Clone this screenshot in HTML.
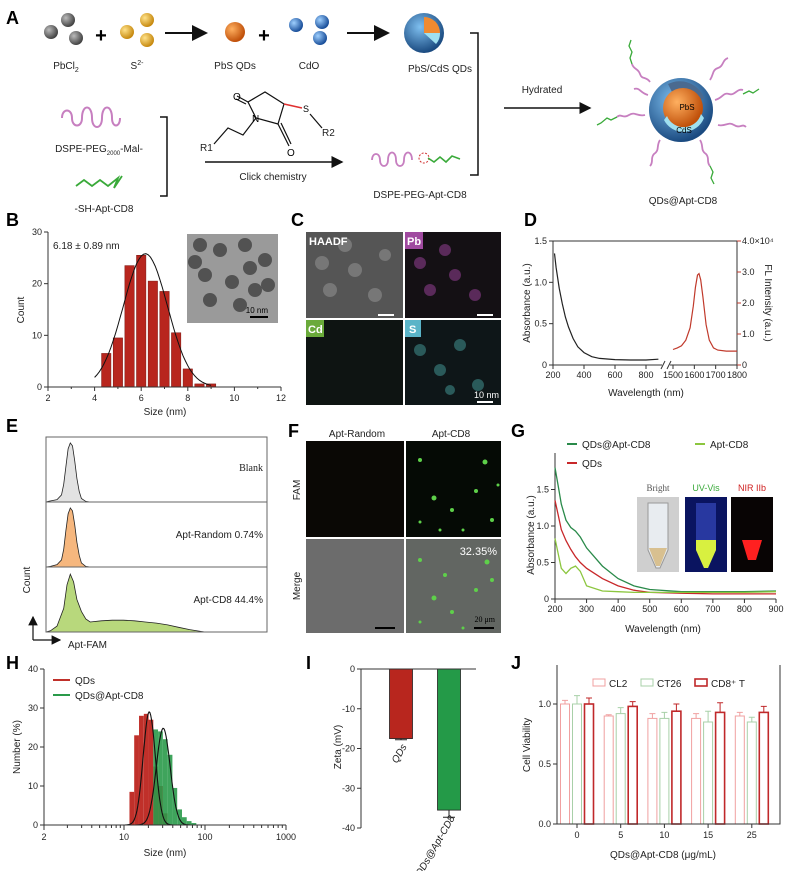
<!DOCTYPE html>
<html><head><meta charset="utf-8"><style>
html,body{margin:0;padding:0;background:#fff;}
svg{display:block;font-family:"Liberation Sans",Arial,sans-serif;}
.pl{font-weight:bold;font-size:18px;}
.t{font-size:10px;fill:#222;}
.tk{font-size:9px;fill:#222;}
</style></head><body>
<svg id="fig" width="790" height="871" viewBox="0 0 790 871" xmlns="http://www.w3.org/2000/svg">
<defs>
<radialGradient id="gGray" cx="35%" cy="35%" r="65%"><stop offset="0" stop-color="#bbb"/><stop offset="1" stop-color="#444"/></radialGradient>
<radialGradient id="gYel" cx="35%" cy="35%" r="65%"><stop offset="0" stop-color="#ffe28a"/><stop offset="1" stop-color="#c78a10"/></radialGradient>
<radialGradient id="gOr" cx="35%" cy="35%" r="65%"><stop offset="0" stop-color="#ffb060"/><stop offset="1" stop-color="#c0500a"/></radialGradient>
<radialGradient id="gBlue" cx="35%" cy="35%" r="65%"><stop offset="0" stop-color="#9fd0ff"/><stop offset="1" stop-color="#1a4f9a"/></radialGradient>
<radialGradient id="gShell" cx="40%" cy="35%" r="65%"><stop offset="0" stop-color="#7fc0f0"/><stop offset="1" stop-color="#1a4a80"/></radialGradient>
<marker id="ah" markerWidth="8" markerHeight="8" refX="7" refY="4" orient="auto"><path d="M0,0 L8,4 L0,8 z" fill="#111"/></marker>
</defs>

<!-- ===== Panel A ===== -->
<g>
<text x="6" y="24" class="pl">A</text>
<g><circle cx="51" cy="32" r="7" fill="url(#gGray)"/><circle cx="68" cy="20" r="7" fill="url(#gGray)"/><circle cx="76" cy="38" r="7" fill="url(#gGray)"/></g>
<text x="101" y="42" font-size="20" font-weight="bold" text-anchor="middle">+</text>
<g><circle cx="127" cy="32" r="7" fill="url(#gYel)"/><circle cx="147" cy="20" r="7" fill="url(#gYel)"/><circle cx="147" cy="40" r="7" fill="url(#gYel)"/></g>
<line x1="165" y1="33" x2="206" y2="33" stroke="#111" stroke-width="2" marker-end="url(#ah)"/>
<circle cx="235" cy="32" r="10" fill="url(#gOr)"/>
<text x="264" y="42" font-size="20" font-weight="bold" text-anchor="middle">+</text>
<g><circle cx="296" cy="25" r="7" fill="url(#gBlue)"/><circle cx="322" cy="22" r="7" fill="url(#gBlue)"/><circle cx="320" cy="38" r="7" fill="url(#gBlue)"/></g>
<line x1="347" y1="33" x2="388" y2="33" stroke="#111" stroke-width="2" marker-end="url(#ah)"/>
<g><circle cx="424" cy="33" r="20" fill="url(#gShell)"/><path d="M424,33 L424,17 A16,16 0 0 1 440,33 z" fill="#f08a30"/><path d="M424,33 L440,33 A16,16 0 0 1 436,44 z" fill="#9fe0f0"/></g>
<text x="66" y="69" class="t" text-anchor="middle">PbCl<tspan font-size="7" dy="3">2</tspan></text>
<text x="137" y="69" class="t" text-anchor="middle">S<tspan font-size="7" dy="-4">2-</tspan></text>
<text x="235" y="69" class="t" text-anchor="middle">PbS QDs</text>
<text x="309" y="69" class="t" text-anchor="middle">CdO</text>
<text x="440" y="72" class="t" text-anchor="middle">PbS/CdS QDs</text>
<path d="M470,33 H478 V175 H470" fill="none" stroke="#111" stroke-width="1.5"/>
<text x="542" y="93" class="t" text-anchor="middle">Hydrated</text>
<line x1="504" y1="108" x2="590" y2="108" stroke="#111" stroke-width="1.5" marker-end="url(#ah)"/>
<path d="M62,118 c0,-10 10,-10 10,0 c0,10 10,10 10,0 c0,-14 10,-14 10,0 c0,12 10,12 10,0 c0,-14 10,-14 10,0 c0,10 8,10 8,0" fill="none" stroke="#c77fc0" stroke-width="2"/>
<text x="99" y="152" class="t" text-anchor="middle">DSPE-PEG<tspan font-size="6" dy="3">2000</tspan><tspan dy="-3">-Mal-</tspan></text>
<path d="M76,186 l8,-6 l8,6 l8,-6 l8,6 l10,-8 l-4,10 l8,-12" fill="none" stroke="#3aaa3a" stroke-width="1.8"/>
<text x="104" y="212" class="t" text-anchor="middle">-SH-Apt-CD8</text>
<path d="M160,117 H167 V196 H160" fill="none" stroke="#111" stroke-width="1.5"/>
<g stroke="#111" stroke-width="1.2" fill="none">
<path d="M256,118 L248,102 L265,92 L284,104 L278,124 Z"/><path d="M248,102 L237,96 M246,104 L236,99"/><path d="M278,124 L289,146 M281,123 L291,144"/>
<path d="M256,118 L243,135 L228,128 L214,144"/><path d="M284,104 L302,108" stroke="#e03030" stroke-width="1.6"/><path d="M310,114 L322,128"/>
</g>
<text x="233" y="100" font-size="10">O</text>
<text x="287" y="156" font-size="10">O</text>
<text x="252" y="122" font-size="10">N</text>
<text x="303" y="112" font-size="9">S</text>
<text x="322" y="136" class="t">R2</text>
<text x="200" y="151" class="t">R1</text>
<line x1="205" y1="162" x2="342" y2="162" stroke="#111" stroke-width="1.5" marker-end="url(#ah)"/>
<text x="273" y="180" class="t" text-anchor="middle">Click chemistry</text>
<path d="M372,160 c0,-8 8,-8 8,0 c0,8 8,8 8,0 c0,-10 8,-10 8,0 c0,8 8,8 8,0 c0,-10 8,-10 8,0" fill="none" stroke="#c77fc0" stroke-width="1.8"/>
<circle cx="424" cy="158" r="5" fill="none" stroke="#d03030" stroke-dasharray="2,1.5"/>
<path d="M428,158 l6,4 l6,-5 l6,5 l6,-6 l8,3" fill="none" stroke="#3aaa3a" stroke-width="1.6"/>
<text x="420" y="198" class="t" text-anchor="middle">DSPE-PEG-Apt-CD8</text>
<g>
<g fill="none" stroke="#c77fc0" stroke-width="1.8">
<path d="M650,82 c-4,-6 -8,-2 -10,-8 c-2,-6 -6,-4 -8,-10"/><path d="M710,80 c4,-6 2,-10 8,-12 c6,-2 4,-8 10,-10"/><path d="M715,100 c8,-2 8,-8 14,-6 c6,2 8,-6 14,-4"/>
<path d="M718,125 c8,2 10,-4 16,0 c6,4 8,-2 12,2"/><path d="M700,140 c4,6 0,10 6,14 c4,4 0,8 4,12"/><path d="M660,140 c-4,6 0,10 -6,14 c-4,4 0,8 -4,12"/><path d="M645,115 c-8,2 -10,-4 -16,0 c-6,4 -8,-2 -12,2"/><path d="M648,95 c-8,-2 -8,-8 -14,-6"/>
</g>
<g fill="none" stroke="#3aaa3a" stroke-width="1.3"><path d="M632,64 l-2,-6 l2,-6 l-3,-6 l2,-6"/><path d="M743,94 l6,-3 l4,2 l6,-4"/><path d="M710,166 l3,6 l-2,6 l3,6"/><path d="M617,117 l-6,3 l-4,-2 l-6,5 l-4,2"/></g>
<circle cx="681" cy="110" r="32" fill="url(#gShell)"/>
<path d="M681,110 L668,84 A26,26 0 0 1 704,98 z" fill="#4a6a90"/>
<circle cx="683" cy="108" r="20" fill="url(#gOr)"/>
<path d="M664,120 A22,22 0 0 0 704,118 L701,114 A18,18 0 0 1 667,116 z" fill="#9fe0f0"/>
<text x="687" y="110" font-size="8" text-anchor="middle">PbS</text>
<text x="684" y="133" font-size="8" text-anchor="middle">CdS</text>
</g>
<text x="683" y="204" class="t" text-anchor="middle">QDs@Apt-CD8</text>
</g>

<!-- ===== Panel C ===== -->
<g>
<text x="291" y="226" class="pl">C</text>
<rect x="306" y="232" width="97" height="86" fill="#555"/>
<g fill="#777"><circle cx="322" cy="263" r="7"/><circle cx="345" cy="245" r="7"/><circle cx="330" cy="290" r="7"/><circle cx="355" cy="270" r="7"/><circle cx="375" cy="295" r="7"/><circle cx="385" cy="255" r="6"/></g>
<rect x="405" y="232" width="96" height="86" fill="#141014"/>
<g fill="#5a2a5a"><circle cx="420" cy="263" r="6"/><circle cx="445" cy="250" r="6"/><circle cx="455" cy="275" r="6"/><circle cx="475" cy="295" r="6"/><circle cx="430" cy="290" r="6"/></g>
<rect x="306" y="320" width="97" height="85" fill="#0e1412"/>
<rect x="405" y="320" width="96" height="85" fill="#0e1618"/>
<g fill="#2a5a5a"><circle cx="420" cy="350" r="6"/><circle cx="440" cy="370" r="6"/><circle cx="460" cy="345" r="6"/><circle cx="478" cy="385" r="6"/><circle cx="450" cy="390" r="5"/></g>
<text x="309" y="245" font-size="11" font-weight="bold" fill="#fff">HAADF</text>
<rect x="405" y="232" width="18" height="17" fill="#a04aa0"/><text x="407" y="245" font-size="11" font-weight="bold" fill="#fff">Pb</text>
<rect x="306" y="320" width="18" height="17" fill="#6aaa3a"/><text x="308" y="333" font-size="11" font-weight="bold" fill="#fff">Cd</text>
<rect x="405" y="320" width="16" height="17" fill="#5ab4c8"/><text x="409" y="333" font-size="11" font-weight="bold" fill="#fff">S</text>
<g stroke="#fff" stroke-width="2"><line x1="378" y1="315" x2="394" y2="315"/><line x1="477" y1="315" x2="493" y2="315"/><line x1="477" y1="402" x2="493" y2="402"/></g>
<text x="499" y="398" font-size="9" fill="#fff" text-anchor="end">10 nm</text>
</g>

<!-- ===== Panel F ===== -->
<g>
<text x="288" y="437" class="pl">F</text>
<text x="357" y="437" class="t" text-anchor="middle">Apt-Random</text>
<text x="451" y="437" class="t" text-anchor="middle">Apt-CD8</text>
<text transform="translate(300,490) rotate(-90)" class="t" text-anchor="middle">FAM</text>
<text transform="translate(300,586) rotate(-90)" class="t" text-anchor="middle">Merge</text>
<rect x="306" y="441" width="98" height="96" fill="#0a0805"/>
<rect x="406" y="441" width="95" height="96" fill="#050a05"/>
<rect x="306" y="539" width="98" height="94" fill="#6c6c6c"/>
<rect x="406" y="539" width="95" height="94" fill="#626662"/>
<g fill="#5ed04a"><circle cx="420" cy="460" r="2"/><circle cx="485" cy="462" r="2.5"/><circle cx="476" cy="491" r="2"/><circle cx="434" cy="498" r="2.5"/><circle cx="452" cy="510" r="2"/><circle cx="420" cy="522" r="1.5"/><circle cx="492" cy="520" r="2"/><circle cx="463" cy="530" r="1.5"/><circle cx="440" cy="530" r="1.5"/><circle cx="498" cy="485" r="1.5"/>
<circle cx="420" cy="560" r="2"/><circle cx="487" cy="562" r="2.5"/><circle cx="476" cy="590" r="2"/><circle cx="434" cy="598" r="2.5"/><circle cx="452" cy="612" r="2"/><circle cx="420" cy="622" r="1.5"/><circle cx="492" cy="580" r="2"/><circle cx="463" cy="628" r="1.5"/><circle cx="445" cy="575" r="2"/></g>
<text x="497" y="555" font-size="11" fill="#fff" text-anchor="end">32.35%</text>
<g stroke="#000" stroke-width="2"><line x1="375" y1="628" x2="395" y2="628"/><line x1="474" y1="628" x2="494" y2="628"/></g>
<text x="495" y="622" font-size="8" font-family="Liberation Serif" text-anchor="end">20 μm</text>
</g>

<g id="charts"></g>
</svg>

<script>
const svg = document.getElementById('charts');
const NS = 'http://www.w3.org/2000/svg';
function el(tag, attrs, parent) {
  const e = document.createElementNS(NS, tag);
  for (const k in attrs) e.setAttribute(k, attrs[k]);
  (parent || svg).appendChild(e);
  return e;
}
function txt(x, y, s, attrs, parent) {
  const e = el('text', Object.assign({x: x, y: y}, attrs || {}), parent);
  e.textContent = s;
  return e;
}
function pathFrom(xs, ys, fx, fy) {
  return xs.map((v, i) => (i ? 'L' : 'M') + fx(v).toFixed(1) + ',' + fy(ys[i]).toFixed(1)).join(' ');
}

/* ---------- Panel B data ---------- */
const bSizes = [4.5, 5, 5.5, 6, 6.5, 7, 7.5, 8, 8.5, 9];
const bCounts = [6.5, 9.5, 23.5, 25.5, 20.5, 18.5, 10.5, 3.5, 0.6, 0.6];
const bFitMean = 6.18, bFitSigma = 0.95, bFitPeak = 25.8;
const bXTicks = [2, 4, 6, 8, 10, 12];
const bYTicks = [0, 10, 20, 30];

/* ---------- Panel D data ---------- */
const dAbsWl = [210, 220, 240, 260, 280, 300, 330, 360, 400, 450, 500, 600, 700, 800, 880];
const dAbs = [1.35, 1.18, 0.93, 0.74, 0.58, 0.46, 0.32, 0.22, 0.15, 0.1, 0.08, 0.065, 0.06, 0.06, 0.07];
const dFlWl = [1500, 1520, 1540, 1560, 1580, 1595, 1605, 1615, 1622, 1630, 1640, 1655, 1670, 1690, 1710, 1750, 1800];
const dFl = [0.5, 0.55, 0.62, 0.8, 1.2, 1.9, 2.5, 2.9, 2.95, 2.75, 2.2, 1.3, 0.8, 0.55, 0.48, 0.45, 0.45];
const dLeftTicks = [0, 0.5, 1.0, 1.5];
const dLeftLabels = ['0', '0.5', '1.0', '1.5'];
const dRightTicks = [0, 1, 2, 3, 4];
const dRightLabels = ['0', '1.0', '2.0', '3.0', '4.0×10⁴'];
const dXTicksA = [200, 400, 600, 800];
const dXTicksB = [1500, 1600, 1700, 1800];

/* ---------- Panel E data ---------- */
const eBlankX = [0, 1, 5, 7, 8, 9, 10, 11, 12, 13, 14, 15, 16, 18, 20, 100];
const eBlankY = [0, 0.01, 0.04, 0.12, 0.3, 0.6, 0.9, 1.0, 0.95, 0.7, 0.4, 0.18, 0.06, 0.01, 0, 0];
const eRandX = [0, 2, 5, 7, 8, 9, 10, 11, 12, 13, 14, 15, 16, 18, 20, 100];
const eRandY = [0, 0.01, 0.04, 0.12, 0.3, 0.62, 0.9, 1.0, 0.95, 0.72, 0.42, 0.2, 0.07, 0.01, 0, 0];
const eCd8X = [0, 2, 5, 8, 9.5, 11, 12.5, 14, 16, 18, 20, 25, 30, 35, 40, 45, 50, 55, 60, 65, 70, 72, 100];
const eCd8Y = [0, 0.02, 0.1, 0.4, 0.8, 0.98, 0.85, 0.55, 0.35, 0.22, 0.17, 0.19, 0.2, 0.2, 0.19, 0.17, 0.15, 0.12, 0.08, 0.04, 0.01, 0, 0];
const eLabels = ['Blank', 'Apt-Random  0.74%', 'Apt-CD8  44.4%'];

/* ---------- Panel G data ---------- */
const gWl = [200, 210, 220, 235, 250, 265, 280, 300, 350, 400, 450, 500, 600, 700, 800, 900];
const gQdsApt = [1.8, 1.55, 1.3, 1.08, 0.98, 0.93, 0.85, 0.7, 0.45, 0.28, 0.18, 0.13, 0.1, 0.1, 0.1, 0.11];
const gQds = [1.35, 1.15, 0.95, 0.8, 0.68, 0.58, 0.5, 0.42, 0.28, 0.18, 0.12, 0.09, 0.08, 0.07, 0.07, 0.07];
const gApt = [0.83, 0.62, 0.42, 0.35, 0.42, 0.45, 0.38, 0.18, 0.11, 0.1, 0.09, 0.09, 0.09, 0.09, 0.09, 0.1];
const gXTicks = [200, 300, 400, 500, 600, 700, 800, 900];
const gYTicks = [0, 0.5, 1.0, 1.5];

/* ---------- Panel H data ---------- */
const hQdsSizes = [12.5, 14.3, 16.4, 18.8, 21.5, 24.6, 28.2, 32.3];
const hQdsVals = [8.5, 23, 28, 28.5, 27, 15, 10, 3];
const hAptSizes = [24.6, 28.2, 32.3, 37, 42.4, 48.6, 55.6, 63.7, 73];
const hAptVals = [24.5, 24, 22, 18, 9.5, 4, 2, 1, 0.5];
const hQdsFit = {mean: 20.5, sd: 0.075, peak: 29};
const hAptFit = {mean: 30.5, sd: 0.085, peak: 24.8};
const hYTicks = [0, 10, 20, 30, 40];
const hXTicks = [10, 100, 1000];

/* ---------- Panel I data ---------- */
const iCats = ['QDs', 'QDs@Apt-CD8'];
const iVals = [-17.5, -35.5];
const iErrs = [0.3, 1.8];
const iYTicks = [0, -10, -20, -30, -40];

/* ---------- Panel J data ---------- */
const jCats = ['0', '5', '10', '15', '25'];
const jCL2 = [1.0, 0.9, 0.88, 0.88, 0.9];
const jCT26 = [1.0, 0.92, 0.88, 0.85, 0.85];
const jCD8 = [1.0, 0.98, 0.94, 0.93, 0.93];
const jCL2Err = [0.03, 0.01, 0.04, 0.04, 0.03];
const jCT26Err = [0.07, 0.05, 0.05, 0.09, 0.04];
const jCD8Err = [0.05, 0.04, 0.06, 0.08, 0.05];
const jYTicks = [0, 0.5, 1.0];
const jYLabels = ['0.0', '0.5', '1.0'];

/* ===================== Panel B ===================== */
(function () {
  const g = el('g', {});
  
  
  const xB = v => 48 + (v - 2) * 23.3, yB = v => 387 - v * 155 / 30;
  const lb = txt(6, 226, 'B', {class: 'pl'}, g);
  
  
  bSizes.forEach((s, i) => {
    const r = el('rect', {x: xB(s) - 4.7, y: yB(bCounts[i]), width: 9.4, height: yB(0) - yB(bCounts[i]), fill: '#b8261e', stroke: '#7a1510', 'stroke-width': 0.5}, g);
    
    
  });
  const fx = [], fy = [];
  for (let s = 4; s <= 9.01; s += 0.1) { fx.push(s); fy.push(bFitPeak * Math.exp(-Math.pow(s - bFitMean, 2) / (2 * bFitSigma * bFitSigma))); }
  const fit = el('path', {d: pathFrom(fx, fy, xB, yB), fill: 'none', stroke: '#111', 'stroke-width': 1}, g);
  
  
  const ax = el('path', {d: `M${xB(2)},${yB(30)} V${yB(0)} H${xB(12)}`, fill: 'none', stroke: '#333', 'stroke-width': 1}, g);
  
  
  for (let v = 2; v <= 12; v++) el('line', {x1: xB(v), x2: xB(v), y1: yB(0), y2: yB(0) + (v % 2 ? 2 : 4), stroke: '#333'}, g);
  bXTicks.forEach(v => {
    const t = txt(xB(v), 401, String(v), {class: 'tk', 'text-anchor': 'middle'}, g);
    
    
  });
  bYTicks.forEach(v => {
    el('line', {x1: xB(2) - 4, x2: xB(2), y1: yB(v), y2: yB(v), stroke: '#333'}, g);
    const t = txt(xB(2) - 6, yB(v) + 3, String(v), {class: 'tk', 'text-anchor': 'end'}, g);
    
    
  });
  const xt = txt(165, 415, 'Size (nm)', {class: 't', 'text-anchor': 'middle'}, g);
  
  
  const yt = txt(0, 0, 'Count', {class: 't', 'text-anchor': 'middle', transform: 'translate(24,310) rotate(-90)'}, g);
  
  
  const st = txt(53, 249, '6.18 ± 0.89 nm', {class: 't'}, g);
  
  
  const tem = el('rect', {x: 187, y: 234, width: 91, height: 89, fill: '#9a9a9a'}, g);
  
  
  [[200, 245], [220, 250], [245, 245], [265, 260], [205, 275], [232, 282], [255, 290], [210, 300], [240, 305], [268, 285], [195, 262], [250, 268]].forEach(p => el('circle', {cx: p[0], cy: p[1], r: 7, fill: '#404040', opacity: 0.8}, g));
  el('line', {x1: 250, x2: 268, y1: 317, y2: 317, stroke: '#000', 'stroke-width': 2}, g);
  const sb = txt(268, 313, '10 nm', {'font-size': 8, 'text-anchor': 'end'}, g);
  
  
})();

/* ===================== Panel D ===================== */
(function () {
  const g = el('g', {});
  
  
  const xD = w => w <= 900 ? 553 + (w - 200) * 0.155 : 673 + (w - 1500) * 64 / 300;
  const yL = a => 365 - a * 124 / 1.5, yR = f => 365 - f * 31;
  const lb = txt(524, 226, 'D', {class: 'pl'}, g);
  
  
  const fr = el('path', {d: 'M553,241 H737 V365 M553,241 V365 H662 M670,365 H737', fill: 'none', stroke: '#333'}, g);
  
  
  el('path', {d: 'M661,369 L665,361 M667,369 L671,361', stroke: '#333', fill: 'none'}, g);
  const ab = el('path', {d: pathFrom(dAbsWl, dAbs, xD, yL), fill: 'none', stroke: '#222', 'stroke-width': 1.2}, g);
  
  
  const fl = el('path', {d: pathFrom(dFlWl, dFl, xD, yR), fill: 'none', stroke: '#c0392b', 'stroke-width': 1.2}, g);
  
  
  dLeftTicks.forEach((v, i) => {
    el('line', {x1: 549, x2: 553, y1: yL(v), y2: yL(v), stroke: '#333'}, g);
    const t = txt(547, yL(v) + 3, dLeftLabels[i], {class: 'tk', 'text-anchor': 'end'}, g);
    
    
  });
  dRightTicks.forEach((v, i) => {
    el('line', {x1: 737, x2: 741, y1: yR(v), y2: yR(v), stroke: '#c0392b'}, g);
    const t = txt(742, yR(v) + 3, dRightLabels[i], {class: 'tk', fill: '#c0392b', 'font-size': 8}, g);
    
    
  });
  dXTicksA.concat(dXTicksB).forEach(v => {
    el('line', {x1: xD(v), x2: xD(v), y1: 365, y2: 369, stroke: '#333'}, g);
    const t = txt(xD(v), 378, String(v), {class: 'tk', 'text-anchor': 'middle', 'font-size': 8}, g);
    
    
  });
  const xt = txt(646, 396, 'Wavelength (nm)', {class: 't', 'text-anchor': 'middle', 'font-size': 11}, g);
  
  
  const yt = txt(0, 0, 'Absorbance (a.u.)', {class: 't', 'text-anchor': 'middle', transform: 'translate(530,303) rotate(-90)'}, g);
  
  
  const yr = txt(0, 0, 'FL Intensity (a.u.)', {class: 't', 'text-anchor': 'middle', fill: '#c0392b', transform: 'translate(765,303) rotate(90)'}, g);
  
  
})();

/* ===================== Panel E ===================== */
(function () {
  const g = el('g', {});
  
  
  const lb = txt(6, 432, 'E', {class: 'pl'}, g);
  
  
  const xE = p => 46 + p * 2.21;
  const rows = [[eBlankX, eBlankY, '#e2e2e2'], [eRandX, eRandY, '#f6b77e'], [eCd8X, eCd8Y, '#b8d87c']];
  rows.forEach((r, i) => {
    const top = 437 + i * 65, base = top + 65;
    const yE = v => base - v * 59;
    const d = pathFrom(r[0], r[1], xE, yE);
    const a = el('path', {d: d + ` L${xE(100)},${base} L${xE(0)},${base} Z`, fill: r[2], stroke: '#222', 'stroke-width': 0.8}, g);
    
    
    el('rect', {x: 46, y: top, width: 221, height: 65, fill: 'none', stroke: '#666'}, g);
    const t = txt(263, top + (i ? 36 : 34), eLabels[i], {class: 't', 'text-anchor': 'end', 'font-size': i ? 11 : 12, 'font-family': i ? 'Liberation Sans' : 'Liberation Serif'}, g);
    
    
  });
  el('path', {d: 'M33,640 V617', stroke: '#111', 'stroke-width': 1.2, 'marker-end': 'url(#ah)'}, g);
  el('path', {d: 'M33,640 H60', stroke: '#111', 'stroke-width': 1.2, 'marker-end': 'url(#ah)'}, g);
  const yt = txt(0, 0, 'Count', {class: 't', 'text-anchor': 'middle', transform: 'translate(30,580) rotate(-90)'}, g);
  
  
  const xt = txt(68, 648, 'Apt-FAM', {class: 't'}, g);
  
  
})();

/* ===================== Panel G ===================== */
(function () {
  const g = el('g', {});
  
  
  const xG = w => 555 + (w - 200) * 221 / 700, yG = a => 599 - a * 73;
  const lb = txt(511, 437, 'G', {class: 'pl'}, g);
  
  
  const ax = el('path', {d: `M555,453 V599 H776`, fill: 'none', stroke: '#333'}, g);
  
  
  [[gQdsApt, '#2a8a4a', 'qds-apt-cd8'], [gQds, '#c8282a', 'qds'], [gApt, '#8cc63f', 'apt-cd8']].forEach(s => {
    const p = el('path', {d: pathFrom(gWl, s[0], xG, yG), fill: 'none', stroke: s[1], 'stroke-width': 1.3}, g);
    
    
  });
  gXTicks.forEach(v => {
    el('line', {x1: xG(v), x2: xG(v), y1: 599, y2: 603, stroke: '#333'}, g);
    const t = txt(xG(v), 612, String(v), {class: 'tk', 'text-anchor': 'middle', 'font-size': 8}, g);
    
    
  });
  gYTicks.forEach(v => {
    el('line', {x1: 551, x2: 555, y1: yG(v), y2: yG(v), stroke: '#333'}, g);
    const t = txt(549, yG(v) + 3, v === 0 ? '0' : v.toFixed(1), {class: 'tk', 'text-anchor': 'end', 'font-size': 8}, g);
    
    
  });
  const xt = txt(663, 632, 'Wavelength (nm)', {class: 't', 'text-anchor': 'middle', 'font-size': 11}, g);
  
  
  const yt = txt(0, 0, 'Absorbance (a.u.)', {class: 't', 'text-anchor': 'middle', transform: 'translate(534,535) rotate(-90)'}, g);
  
  
  [[567, 444, '#2a8a4a', 'QDs@Apt-CD8'], [695, 444, '#8cc63f', 'Apt-CD8'], [567, 463, '#c8282a', 'QDs']].forEach((L, i) => {
    el('line', {x1: L[0], x2: L[0] + 10, y1: L[1], y2: L[1], stroke: L[2], 'stroke-width': 2}, g);
    const t = txt(L[0] + 15, L[1] + 4, L[3], {class: 't', 'font-size': 11}, g);
    
    
  });
  const ins = [[637, '#cfcfcf', 'Bright', '#555'], [685, '#0a1460', 'UV-Vis', '#3aaa3a'], [731, '#080404', 'NIR IIb', '#d02020']];
  ins.forEach((I, i) => {
    const r = el('rect', {x: I[0], y: 497, width: 42, height: 75, fill: I[1]}, g);
    
    
    const t = txt(I[0] + 21, 491, I[2], {'font-size': 9, 'text-anchor': 'middle', fill: I[3], 'font-family': i ? 'Liberation Sans' : 'Liberation Serif'}, g);
    
    
  });
  el('path', {d: 'M648,503 H668 V550 L660,568 H656 L648,550 Z', fill: '#e8ecf0', stroke: '#999'}, g);
  el('path', {d: 'M649,548 H667 L660,566 H656 Z', fill: '#d8c090'}, g);
  el('path', {d: 'M696,503 H716 V550 L708,568 H704 L696,550 Z', fill: '#2838a0'}, g);
  el('path', {d: 'M696,540 H716 V550 L708,568 H704 L696,550 Z', fill: '#d8f040'}, g);
  el('path', {d: 'M742,540 H762 L756,560 H748 Z', fill: '#ff2020'}, g);
})();

/* ===================== Panel H ===================== */
(function () {
  const g = el('g', {});
  
  
  const xH = s => 124 + Math.log10(s / 10) * 81, yH = v => 825 - v * 156 / 40;
  const lb = txt(6, 669, 'H', {class: 'pl'}, g);
  
  
  const bw = s => (xH(s * 1.07) - xH(s / 1.07));
  hQdsSizes.forEach((s, i) => {
    const r = el('rect', {x: xH(s) - bw(s) / 2, y: yH(hQdsVals[i]), width: bw(s), height: yH(0) - yH(hQdsVals[i]), fill: '#c0302a'}, g);
    
    
  });
  hAptSizes.forEach((s, i) => {
    const r = el('rect', {x: xH(s) - bw(s) / 2, y: yH(hAptVals[i]), width: bw(s), height: yH(0) - yH(hAptVals[i]), fill: '#2a9a4a', opacity: 0.9}, g);
    
    
  });
  [[hQdsFit, 'qds-fit'], [hAptFit, 'qds-apt-fit']].forEach(F => {
    const xs = [], ys = [];
    for (let l = 0.85; l <= 1.85; l += 0.01) { const s = Math.pow(10, l); xs.push(s); ys.push(F[0].peak * Math.exp(-Math.pow(Math.log10(s / F[0].mean), 2) / (2 * F[0].sd * F[0].sd))); }
    const p = el('path', {d: pathFrom(xs, ys, xH, yH), fill: 'none', stroke: '#111', 'stroke-width': 1.1}, g);
    
    
  });
  const ax = el('path', {d: 'M44,669 V825 H286', fill: 'none', stroke: '#333'}, g);
  
  
  for (let d = 1; d <= 100; d *= 10) for (let m = 2; m <= 9; m++) { const s = m * d; const x = xH(s); if (x >= 44 && x <= 286) el('line', {x1: x, x2: x, y1: 825, y2: 828, stroke: '#333'}, g); }
  hXTicks.forEach(v => el('line', {x1: xH(v), x2: xH(v), y1: 825, y2: 830, stroke: '#333'}, g));
  el('line', {x1: 44, x2: 44, y1: 825, y2: 830, stroke: '#333'}, g);
  [['2', 44]].concat(hXTicks.map(v => [String(v), xH(v)])).forEach(T => {
    const t = txt(T[1], 840, T[0], {class: 'tk', 'text-anchor': 'middle'}, g);
    
    
  });
  hYTicks.forEach(v => {
    el('line', {x1: 40, x2: 44, y1: yH(v), y2: yH(v), stroke: '#333'}, g);
    const t = txt(38, yH(v) + 3, String(v), {class: 'tk', 'text-anchor': 'end'}, g);
    
    
  });
  const xt = txt(165, 856, 'Size (nm)', {class: 't', 'text-anchor': 'middle'}, g);
  
  
  const yt = txt(0, 0, 'Number (%)', {class: 't', 'text-anchor': 'middle', transform: 'translate(20,747) rotate(-90)'}, g);
  
  
  [[680, '#c0302a', 'QDs'], [695, '#2a9a4a', 'QDs@Apt-CD8']].forEach((L, i) => {
    el('line', {x1: 53, x2: 70, y1: L[0], y2: L[0], stroke: L[1], 'stroke-width': 2}, g);
    const t = txt(75, L[0] + 4, L[2], {class: 't'}, g);
    
    
  });
})();

/* ===================== Panel I ===================== */
(function () {
  const g = el('g', {});
  
  
  const yI = v => 669 - v * 159 / 40;
  const lb = txt(306, 669, 'I', {class: 'pl'}, g);
  
  
  const cols = ['#b8261e', '#249a48'];
  iCats.forEach((c, i) => {
    const cx = 401 + i * 48;
    const r = el('rect', {x: cx - 11.5, y: yI(0), width: 23, height: yI(iVals[i]) - yI(0), fill: cols[i], stroke: '#222', 'stroke-width': 0.8}, g);
    
    
    const e = el('path', {d: `M${cx},${yI(iVals[i])} V${yI(iVals[i] - iErrs[i])} M${cx - 6},${yI(iVals[i] - iErrs[i])} H${cx + 6}`, stroke: '#222', fill: 'none'}, g);
    
    
    const t = txt(0, 0, c, {class: 't', 'font-size': 11, 'font-style': 'italic', 'text-anchor': 'end', transform: `translate(${cx + 6},${yI(iVals[i]) + 8}) rotate(-60)`}, g);
    
    
  });
  const ax = el('path', {d: 'M361,669 V828 M361,669 H476', fill: 'none', stroke: '#333'}, g);
  
  
  iYTicks.forEach(v => {
    el('line', {x1: 357, x2: 361, y1: yI(v), y2: yI(v), stroke: '#333'}, g);
    const t = txt(355, yI(v) + 3, String(v), {class: 'tk', 'text-anchor': 'end'}, g);
    
    
  });
  const yt = txt(0, 0, 'Zeta (mV)', {class: 't', 'text-anchor': 'middle', transform: 'translate(341,747) rotate(-90)'}, g);
  
  
})();

/* ===================== Panel J ===================== */
(function () {
  const g = el('g', {});
  
  
  const yJ = v => 824 - v * 120;
  const lb = txt(511, 669, 'J', {class: 'pl'}, g);
  
  
  const series = [[jCL2, jCL2Err, '#f0a0a0', 1, -12, 'cl2'], [jCT26, jCT26Err, '#a8d0a8', 1, 0, 'ct26'], [jCD8, jCD8Err, '#c0282a', 1.6, 12, 'cd8-t']];
  jCats.forEach((c, i) => {
    const cx = 577 + i * 43.7;
    series.forEach(S => {
      const x = cx + S[4];
      const r = el('rect', {x: x - 4.5, y: yJ(S[0][i]), width: 9, height: yJ(0) - yJ(S[0][i]), fill: 'none', stroke: S[2], 'stroke-width': S[3]}, g);
      
      
      const e = el('path', {d: `M${x},${yJ(S[0][i])} V${yJ(S[0][i] + S[1][i])} M${x - 3},${yJ(S[0][i] + S[1][i])} H${x + 3}`, stroke: S[2], fill: 'none'}, g);
      
      
    });
    el('line', {x1: cx, x2: cx, y1: 824, y2: 828, stroke: '#333'}, g);
    const t = txt(cx, 838, c, {class: 'tk', 'text-anchor': 'middle'}, g);
    
    
  });
  const ax = el('path', {d: 'M557,665 V824 H780 V665', fill: 'none', stroke: '#333'}, g);
  
  
  jYTicks.forEach((v, i) => {
    el('line', {x1: 553, x2: 557, y1: yJ(v), y2: yJ(v), stroke: '#333'}, g);
    const t = txt(551, yJ(v) + 3, jYLabels[i], {class: 'tk', 'text-anchor': 'end'}, g);
    
    
  });
  [[593, '#f0a0a0', 'CL2'], [641, '#a8d0a8', 'CT26'], [695, '#c0282a', 'CD8⁺ T']].forEach((L, i) => {
    el('rect', {x: L[0], y: 679, width: 12, height: 7, fill: 'none', stroke: L[1], 'stroke-width': i === 2 ? 1.6 : 1}, g);
    const t = txt(L[0] + 16, 687, L[2], {class: 't'}, g);
    
    
  });
  const xt = txt(663, 858, 'QDs@Apt-CD8 (μg/mL)', {class: 't', 'font-size': 11, 'text-anchor': 'middle'}, g);
  
  
  const yt = txt(0, 0, 'Cell Viability', {class: 't', 'text-anchor': 'middle', transform: 'translate(530,745) rotate(-90)'}, g);
  
  
})();
</script>
</body></html>
